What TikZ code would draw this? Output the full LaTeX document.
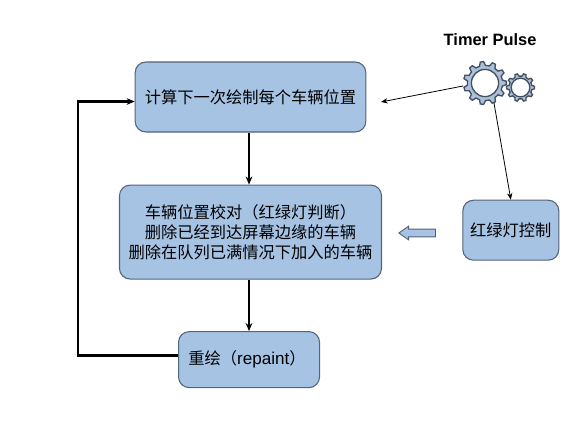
\documentclass[tikz,border=0pt]{standalone}
\usepackage{fontspec}
\usepackage{tikz}
\usetikzlibrary{arrows.meta,positioning,shapes.arrows}
\setmainfont{Liberation Sans}
\newfontfamily\cjk{Noto Sans CJK SC}
\definecolor{softblue}{RGB}{166,195,227}
\definecolor{boxline}{RGB}{84,100,120}
\definecolor{gearblue}{RGB}{172,192,218}
\newcommand{\gearat}[5]{% node, outer radius, root radius, hole radius, teeth
  \begin{scope}[shift={(#1)}]
    \pgfmathsetmacro{\gearstep}{360/#5}
    \pgfmathsetmacro{\gearlast}{360-\gearstep}
    \pgfmathsetmacro{\gearsecond}{\gearstep}
    \draw[gearline] (-0.3*\gearstep:#3) \foreach \a in {0,\gearsecond,...,\gearlast} {
        -- (\a-0.3*\gearstep:#3) -- (\a-0.14*\gearstep:#2) -- (\a+0.14*\gearstep:#2) -- (\a+0.3*\gearstep:#3)
        arc[start angle=\a+0.3*\gearstep, end angle=\a+0.7*\gearstep, radius=#3]
      } -- cycle (0:#4) arc[start angle=0, end angle=360, radius=#4];
  \end{scope}
}
\begin{document}
\begin{tikzpicture}[
    x=0.75pt, y=-0.75pt,
    every node/.style={font=\fontsize{12.2}{15}\selectfont},
    box/.style={draw=boxline, fill=softblue, line width=0.8pt, rounded corners=8pt, align=center, inner sep=0pt},
    flow/.style={-{Stealth[length=6pt,width=5pt]}, line width=1.6pt},
    thinflow/.style={-{Stealth[length=5pt,width=4pt]}, line width=0.6pt},
    gearline/.style={draw=boxline!80!black, fill=gearblue, line width=1pt, even odd rule}
  ]
    \useasboundingbox (0,0) rectangle (582,433);

    \node[box, minimum width=173pt, minimum height=52.5pt] (calc) at (250.5,97) {\cjk 计算下一次绘制每个车辆位置};
    \node[box, minimum width=196.5pt, minimum height=70.5pt, below=39pt of calc] (check) {\cjk 车辆位置校对（红绿灯判断）\\\cjk 删除已经到达屏幕边缘的车辆\\\cjk 删除在队列已满情况下加入的车辆};
    \node[box, minimum width=105.75pt, minimum height=42pt, below=38.6pt of check, xshift=-1.1pt] (paint) {{\cjk 重绘（}{\fontsize{12.8}{15}\selectfont repaint}{\cjk ）}\hspace*{3pt}};
    \node[box, minimum width=72pt, minimum height=45pt, right=60.2pt of check, yshift=1.4pt] (light) {\cjk 红绿灯控制};

    \node[single arrow, draw=boxline, fill=softblue, line width=0.7pt, shape border rotate=180, minimum height=27.5pt, single arrow head extend=2.2pt, single arrow tip angle=70, single arrow head indent=0pt, inner xsep=0pt, inner ysep=2.6pt] (pulsearrow) at (420,233) {};

    \node[circle, minimum size=32.2pt, inner sep=0pt] (gearbig) at (485,83) {};
    \node[circle, minimum size=21pt, inner sep=0pt] (gearsmall) at (520.5,87.5) {};
    \gearat{gearsmall}{10.5pt}{8.6pt}{7pt}{10}
    \gearat{gearbig}{16.1pt}{13.2pt}{10.2pt}{11}
    \node[font=\fontsize{12.3}{14}\selectfont\bfseries, above=8.5pt of gearbig, xshift=3.8pt] (timer) {Timer Pulse};

    \coordinate (flowx) at (249,0);
    \coordinate (loopa) at (78,355.5);
    \coordinate (loopb) at (78,101.5);
    \coordinate (calcin) at (381,102);
    \coordinate (gearout) at (463,86);
    \coordinate (gearlow) at (494,103);

    \draw[flow] (calc.south -| flowx) -- (check.north -| flowx);
    \draw[flow] (check.south -| flowx) -- (paint.north -| flowx);
    \draw[flow] (paint.west |- loopa) -- (loopa) -- (loopb) -- (calc.west |- loopb);
    \draw[thinflow] (gearout) -- (calcin);
    \draw[thinflow] (gearlow) -- (light.north);
  \end{tikzpicture}
\end{document}
